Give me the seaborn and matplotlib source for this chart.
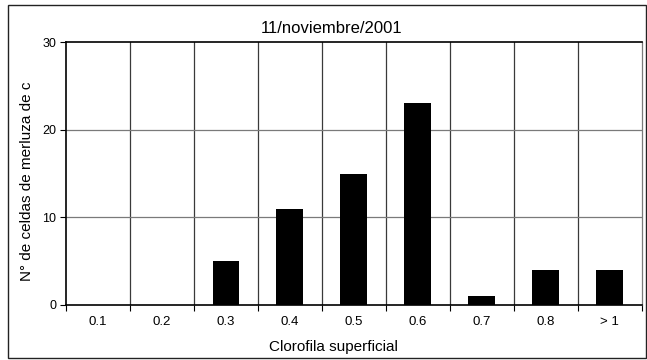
import matplotlib
matplotlib.use("Agg")
import matplotlib.pyplot as plt
import numpy as np
import pandas as pd
import seaborn as sns
from matplotlib.patches import Rectangle

categorias = ['0.1', '0.2', '0.3', '0.4', '0.5', '0.6', '0.7', '0.8', '> 1']
celdas = [0, 0, 5, 11, 15, 23, 1, 4, 4]

df = pd.DataFrame({'clorofila': categorias, 'celdas': celdas})

sns.set_style('white')
plt.rcParams['font.family'] = ['Liberation Sans', 'DejaVu Sans']
plt.rcParams['text.color'] = 'black'
plt.rcParams['xtick.color'] = 'black'
plt.rcParams['ytick.color'] = 'black'
plt.rcParams['axes.labelcolor'] = 'black'

fig = plt.figure(figsize=(6.47, 3.6), dpi=100)
ax = fig.add_axes([0.102, 0.153, 0.890, 0.730])

sns.barplot(data=df, x='clorofila', y='celdas', color='black', width=0.42,
            saturation=1, linewidth=0, edgecolor='none', ax=ax, zorder=3)

ax.set_ylim(0, 30)
ax.set_xlim(-0.5, 8.5)
ax.set_yticks([0, 10, 20, 30])
ax.tick_params(axis='y', which='major', direction='out', length=4, width=0.8,
               labelsize=9, left=True, pad=3)
ax.set_xticks(np.arange(-0.5, 9, 1), minor=True)
ax.tick_params(axis='x', which='minor', direction='out', length=4, width=0.8, bottom=True)
ax.tick_params(axis='x', which='major', length=0, labelsize=9.5, pad=8)

# grid
for v in np.arange(0.5, 8.5, 1):
    ax.axvline(v, color='#3a3a3a', lw=0.9, zorder=1)
for h in [10, 20]:
    ax.axhline(h, color='#7a7a7a', lw=0.9, zorder=1)

for s in ['top', 'left', 'bottom']:
    ax.spines[s].set_color('black')
    ax.spines[s].set_linewidth(1.2)
ax.spines['right'].set_color('#7a7a7a')
ax.spines['right'].set_linewidth(0.9)

ax.set_xlabel('')
ax.set_ylabel('')
fig.text(0.516, 0.037, 'Clorofila superficial', ha='center', va='center', fontsize=11)
fig.text(0.041, 0.497, 'N° de celdas de merluza de c', ha='center', va='center',
         rotation=90, fontsize=11)
fig.text(0.512, 0.921, '11/noviembre/2001', ha='center', va='center', fontsize=12)

fig.patches.append(Rectangle((0.012, 0.006), 0.986, 0.981, transform=fig.transFigure,
                             fill=False, edgecolor='#222222', lw=1.0))

fig.savefig('out.png', dpi=100)
